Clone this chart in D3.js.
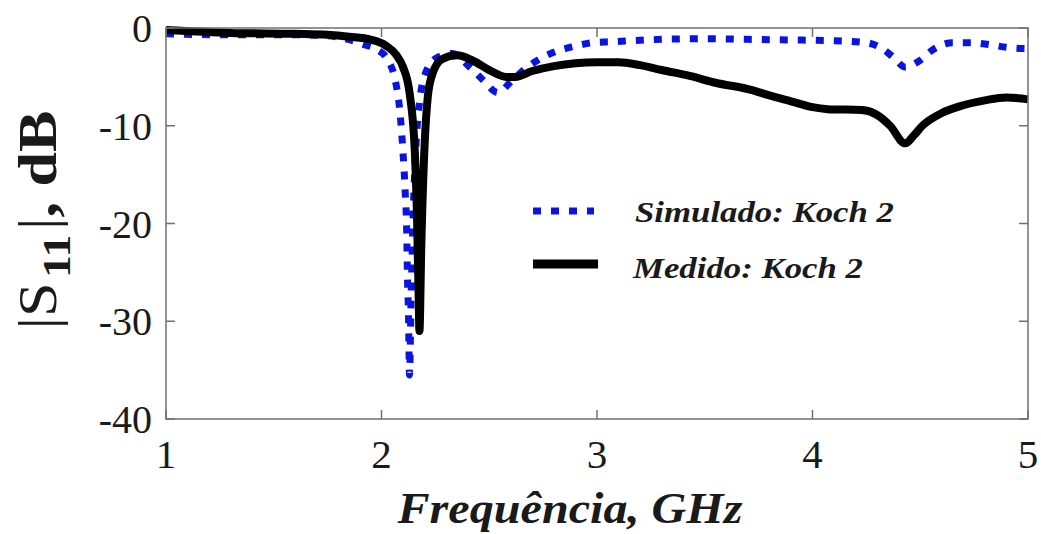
<!DOCTYPE html>
<html>
<head>
<meta charset="utf-8">
<style>
  body { margin: 0; background: #fff; }
  svg { display: block; }
  text { font-family: "Liberation Serif", "Times New Roman", serif; fill: #1a1a1a; }
</style>
</head>
<body>
<div id="chartId"></div>
<script src="https://cdn.jsdelivr.net/npm/d3@7/dist/d3.min.js"></script>
<script>

// tick labels
const xTicks = [1, 2, 3, 4, 5];
const yTicks = [0, -10, -20, -30, -40];

// simulated curve (blue dotted)
const simFreq = [1.0, 1.3, 1.6, 1.75, 1.85, 1.92, 1.98, 2.03, 2.06, 2.086, 2.1, 2.11, 2.117, 2.12, 2.125, 2.13,
  2.137, 2.147, 2.16, 2.18, 2.21, 2.26, 2.33, 2.41, 2.47, 2.54, 2.6, 2.66, 2.74, 2.81, 2.89, 2.98, 3.07, 3.25,
  3.5, 3.8, 4.1, 4.25, 4.33, 4.38, 4.43, 4.5, 4.56, 4.65, 4.73, 4.82, 4.91, 5.0];
const simDb = [-0.6, -0.7, -0.7, -0.8, -1.2, -1.7, -2.2, -3.3, -5.0, -8.7, -12.8, -16.8, -20.9, -25.0, -29.0, -35.5,
  -28, -19, -12, -7.0, -4.3, -3.0, -2.6, -4.0, -5.3, -6.6, -5.5, -4.3, -3.1, -2.4, -1.9, -1.5, -1.4, -1.2,
  -1.1, -1.2, -1.3, -1.5, -2.2, -3.1, -4.0, -3.3, -2.2, -1.5, -1.5, -1.7, -2.0, -2.1];

// measured curve (black solid)
const measFreq = [1.0, 1.3, 1.6, 1.75, 1.85, 1.95, 2.02, 2.07, 2.1, 2.13, 2.155, 2.165, 2.172, 2.176, 2.185, 2.2,
  2.215, 2.235, 2.28, 2.35, 2.42, 2.5, 2.58, 2.62, 2.7, 2.8, 2.9, 3.0, 3.1, 3.2, 3.3, 3.43, 3.55, 3.71, 3.8, 3.9,
  4.0, 4.07, 4.23, 4.3, 4.36, 4.43, 4.47, 4.51, 4.6, 4.7, 4.8, 4.9, 5.0];
const measDb = [-0.2, -0.5, -0.6, -0.7, -0.9, -1.2, -1.8, -2.8, -4.0, -6.6, -12.8, -19.6, -27, -31, -22, -12,
  -7.0, -4.8, -3.2, -2.8, -3.3, -4.3, -5.0, -5.0, -4.4, -3.9, -3.6, -3.5, -3.5, -3.8, -4.3, -4.9, -5.6, -6.3, -6.9, -7.5,
  -8.1, -8.3, -8.4, -8.9, -10.0, -11.8, -11.0, -10.0, -8.7, -7.9, -7.4, -7.1, -7.3];

const legendLabels = ['Simulado: Koch 2', 'Medido: Koch 2'];

const W = 1041, H = 534;
const plot = {left: 166, right: 1028, top: 28, bottom: 419};

const x = d3.scaleLinear().domain([1, 5]).range([plot.left, plot.right]);
const y = d3.scaleLinear().domain([-40, 0]).range([plot.bottom, plot.top]);

const svg = d3.select('#chartId').append('svg')
  .attr('width', W).attr('height', H);

const line = d3.line().x(d => x(d[0])).y(d => y(d[1])).curve(d3.curveMonotoneX);

const sim = simFreq.map((f, i) => [f, simDb[i]]);
const meas = measFreq.map((f, i) => [f, measDb[i]]);

// helper: text with optional horizontal stretch
function label(g, tx, ty, str, anchor, size, sx, weight, style) {
  return g.append('text')
    .attr('transform', 'translate(' + tx + ',' + ty + ') scale(' + sx + ',1)')
    .attr('text-anchor', anchor)
    .style('font-size', size + 'px')
    .style('font-weight', weight || 'normal')
    .style('font-style', style || 'normal')
    .text(str);
}

// curves
svg.append('path').datum(sim)
  .attr('fill', 'none').attr('stroke', '#0a14e0')
  .attr('stroke-width', 7).attr('stroke-dasharray', '8,10')
  .attr('d', line);

svg.append('path').datum(meas)
  .attr('fill', 'none').attr('stroke', '#000')
  .attr('stroke-width', 8).attr('stroke-linejoin', 'round')
  .attr('d', line);

// axes box with inward ticks
const axisColor = '#707070';
const box = svg.append('g');
box.append('rect')
  .attr('x', plot.left).attr('y', plot.top)
  .attr('width', plot.right - plot.left).attr('height', plot.bottom - plot.top)
  .attr('fill', 'none').attr('stroke', axisColor).attr('stroke-width', 1.5);

xTicks.forEach(t => {
  box.append('line').attr('x1', x(t)).attr('x2', x(t)).attr('y1', plot.bottom).attr('y2', plot.bottom - 9)
    .attr('stroke', axisColor).attr('stroke-width', 1.5);
  box.append('line').attr('x1', x(t)).attr('x2', x(t)).attr('y1', plot.top).attr('y2', plot.top + 9)
    .attr('stroke', axisColor).attr('stroke-width', 1.5);
  label(svg, x(t), 468, String(t), 'middle', 41, 1);
});

yTicks.forEach(t => {
  box.append('line').attr('x1', plot.left).attr('x2', plot.left + 9).attr('y1', y(t)).attr('y2', y(t))
    .attr('stroke', axisColor).attr('stroke-width', 1.5);
  box.append('line').attr('x1', plot.right).attr('x2', plot.right - 9).attr('y1', y(t)).attr('y2', y(t))
    .attr('stroke', axisColor).attr('stroke-width', 1.5);
  label(svg, 152, y(t) + 14, String(t), 'end', 40, 1);
});

// axis titles
label(svg, 570, 523, 'Frequência, GHz', 'middle', 45, 1.07, 'bold', 'italic');

const yt = svg.append('text')
  .attr('transform', 'translate(56,220) rotate(-90) scale(1.15,1)')
  .attr('text-anchor', 'middle')
  .style('font-size', '54px');
yt.append('tspan').text('|S');
yt.append('tspan').attr('dx', 4).attr('dy', 14).style('font-size', '40px').style('font-weight', 'bold').text('11');
yt.append('tspan').attr('dx', 4).attr('dy', -14).text('|');
yt.append('tspan').style('font-weight', 'bold').text(', dB');

// legend
const lg = svg.append('g');
lg.append('line').attr('x1', 533).attr('x2', 594).attr('y1', 211).attr('y2', 211)
  .attr('stroke', '#0a14e0').attr('stroke-width', 7).attr('stroke-dasharray', '8,10');
lg.append('line').attr('x1', 533).attr('x2', 598).attr('y1', 264).attr('y2', 264)
  .attr('stroke', '#000').attr('stroke-width', 9);
label(lg, 635, 222, legendLabels[0], 'start', 30, 1.16, 'bold', 'italic');
label(lg, 633, 278, legendLabels[1], 'start', 30, 1.16, 'bold', 'italic');

</script>
</body>
</html>
